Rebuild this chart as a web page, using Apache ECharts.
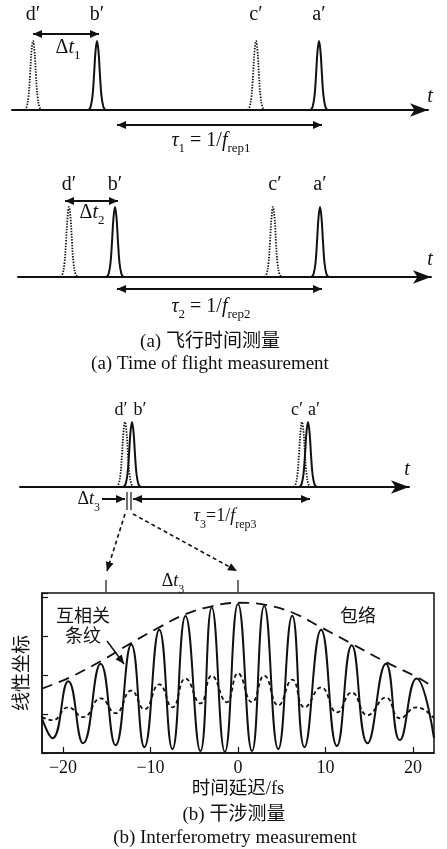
<!DOCTYPE html>
<html>
<head>
<meta charset="utf-8">
<script src="https://cdn.jsdelivr.net/npm/echarts@6/dist/echarts.min.js"></script>
<style>
  html, body { margin: 0; padding: 0; background: #fff; }
  #chart { width: 447px; height: 849px; }
</style>
</head>
<body>
<div id="chart"></div>
<script>
// shape of one pulse: offset along t, relative height
const pulseOffsets = [-8.5, -6.5, -4.5, -3, -1.5, 0, 1.5, 3, 4.5, 6.5, 8.5]
const pulseLevels = [0, 0.04, 0.2, 0.5, 0.85, 1, 0.85, 0.5, 0.2, 0.04, 0]

// pulse centres on each time line, order d', b', c', a'
const pulseNames = ['d′', 'b′', 'c′', 'a′']
const pulseDotted = [true, false, true, false]
const tof1Pulses = [33, 97, 256, 319]
const tof2Pulses = [69, 115, 273, 320]
const interPulses = [125, 132, 302, 308]

// interferogram (delay in fs)
const fringeX = [-22.4, -21.2, -19.4, -17.7, -15.7, -14.0, -12.2, -10.7, -9.0, -7.5, -6.0, -4.3, -3.0, -1.5,
  0, 1.6, 3.0, 4.6, 6.2, 7.6, 9.5, 11.3, 13.0, 14.8, 16.9, 18.5, 20.4, 22.4]
const fringeY = [0.89, 0.38, 1.84, 0.25, 2.29, 0.20, 2.78, 0.15, 3.16, 0.10, 3.51, 0.05, 3.73, 0.03,
  3.82, 0.05, 3.77, 0.10, 3.52, 0.15, 3.16, 0.18, 2.76, 0.25, 2.29, 0.33, 1.91, 0.38]
const xcorrX = [-22.4, -21.2, -19.4, -17.7, -15.7, -14.0, -12.2, -10.7, -9.0, -7.5, -6.0, -4.3, -3.0, -1.3,
  0, 1.6, 3.0, 4.6, 6.2, 7.6, 9.5, 11.3, 13.0, 14.8, 16.9, 18.5, 20.4, 22.4]
const xcorrY = [0.92, 0.84, 1.17, 0.92, 1.40, 1.02, 1.60, 1.12, 1.76, 1.17, 1.91, 1.27, 1.98, 1.30,
  2.04, 1.30, 1.98, 1.22, 1.88, 1.17, 1.68, 1.04, 1.55, 0.97, 1.42, 0.89, 1.17, 0.89]
const envX = [-22.4, -19.4, -15.7, -12.2, -9.0, -6.0, -3.0, 0, 3.0, 6.2, 9.5, 13.0, 16.9, 20.4, 22.4]
const envY = [1.65, 1.92, 2.35, 2.82, 3.22, 3.56, 3.76, 3.85, 3.80, 3.60, 3.22, 2.80, 2.33, 1.95, 1.68]
const delayTicks = [-20, -10, 0, 10, 20]

const ink = '#111'
const serif = "'Liberation Serif', 'Times New Roman', 'Noto Sans CJK SC', serif"

const chart = echarts.init(document.getElementById('chart'))

function pulseData(centres, dotted) {
  const out = []
  centres.forEach((c, i) => {
    if (pulseDotted[i] !== dotted) return
    pulseOffsets.forEach((o, k) => out.push([c + o, pulseLevels[k]]))
    out.push([c + 9, null])
  })
  return out
}

function zip(xs, ys) { return xs.map((x, i) => [x, ys[i]]) }

// three time lines, pixel-like t units
const lines = [
  { left: 12, right: 428, top: 41, height: 69, pulses: tof1Pulses },
  { left: 18, right: 431, top: 207, height: 70, pulses: tof2Pulses },
  { left: 20, right: 409, top: 422, height: 65, pulses: interPulses }
]

const grid = lines.map(l => ({ left: l.left, width: l.right - l.left, top: l.top, height: l.height }))
grid.push({ left: 42, right: 13, top: 593, height: 160, show: true, borderColor: ink, borderWidth: 1.5 })

const xAxis = lines.map((l, i) => ({
  type: 'value', gridIndex: i, min: l.left, max: l.right,
  axisLine: { lineStyle: { color: ink, width: 2 }, symbol: ['none', 'arrow'], symbolSize: [10, 18] },
  axisTick: { show: false }, axisLabel: { show: false }, splitLine: { show: false }
}))
xAxis.push({
  type: 'value', gridIndex: 3, min: -22.4, max: 22.4, splitNumber: 4,
  axisLine: { onZero: false, lineStyle: { color: ink, width: 1.5 } },
  axisTick: { inside: true, length: 6, lineStyle: { color: ink, width: 1.2 } },
  axisLabel: {
    color: ink, fontFamily: serif, fontSize: 18, margin: 6,
    showMinLabel: false, showMaxLabel: false,
    formatter: v => delayTicks.includes(v) ? String(v).replace('-', '−') : ''
  },
  splitLine: { show: false },
  name: '时间延迟/fs', nameLocation: 'middle', nameGap: 27,
  nameTextStyle: { color: ink, fontFamily: serif, fontSize: 18.5 }
})

const yAxis = lines.map((l, i) => ({ type: 'value', gridIndex: i, min: 0, max: 1, show: false }))
yAxis.push({
  type: 'value', gridIndex: 3, min: 0, max: 4.1, interval: 1,
  axisLine: { show: true, onZero: false, lineStyle: { color: ink, width: 1.5 } },
  axisTick: { show: true, inside: true, length: 6, lineStyle: { color: ink, width: 1.2 } },
  axisLabel: { show: false }, splitLine: { show: false },
  name: '线性坐标', nameLocation: 'middle', nameGap: 9,
  nameTextStyle: { color: ink, fontFamily: serif, fontSize: 19 }
})

const series = []
lines.forEach((l, i) => {
  series.push({
    type: 'line', xAxisIndex: i, yAxisIndex: i, smooth: 0.4, symbol: 'none',
    lineStyle: { color: ink, width: 1.8, type: [1.4, 1.4] },
    data: pulseData(l.pulses, true)
  })
  series.push({
    type: 'line', xAxisIndex: i, yAxisIndex: i, smooth: 0.4, symbol: 'none',
    lineStyle: { color: ink, width: 2 },
    data: pulseData(l.pulses, false)
  })
})
series.push({
  type: 'line', xAxisIndex: 3, yAxisIndex: 3, smooth: 0.5, symbol: 'none',
  lineStyle: { color: ink, width: 1.8, type: [4, 3] }, data: zip(xcorrX, xcorrY)
})
series.push({
  type: 'line', xAxisIndex: 3, yAxisIndex: 3, smooth: 0.5, symbol: 'none',
  lineStyle: { color: ink, width: 2 }, data: zip(fringeX, fringeY)
})
series.push({
  type: 'line', xAxisIndex: 3, yAxisIndex: 3, smooth: 0.4, symbol: 'none',
  lineStyle: { color: ink, width: 1.8, type: [11, 7] }, data: zip(envX, envY)
})

// annotations
function richFor(size) {
  const sub = Math.round(size * 0.64)
  const pad = Math.round(size * 0.25)
  const base = { fontFamily: serif, fontSize: size, lineHeight: size + 1, padding: [0, 0, pad, 0], verticalAlign: 'bottom', fill: ink, color: ink }
  return {
    n: base,
    i: Object.assign({}, base, { fontStyle: 'italic' }),
    s: { fontFamily: serif, fontSize: sub, lineHeight: sub, verticalAlign: 'bottom', fill: ink, color: ink }
  }
}

function text(x, y, str, opts = {}) {
  const size = opts.size || 18
  return {
    type: 'text', x, y, z: 10,
    style: {
      text: str, rich: richFor(size), fill: ink,
      font: (opts.italic ? 'italic ' : '') + size + 'px ' + serif,
      align: opts.align || 'center', verticalAlign: 'middle',
      textAlign: opts.align || 'center', textVerticalAlign: 'middle'
    }
  }
}

function head(x1, y1, x2, y2) {
  const a = Math.atan2(y2 - y1, x2 - x1)
  const L = 9, W = 4
  const bx = x2 - L * Math.cos(a), by = y2 - L * Math.sin(a)
  return {
    type: 'polygon', z: 10,
    shape: { points: [[x2, y2], [bx + W * Math.sin(a), by - W * Math.cos(a)], [bx - W * Math.sin(a), by + W * Math.cos(a)]] },
    style: { fill: ink }
  }
}

function arrow(x1, y1, x2, y2, opts = {}) {
  const els = [{
    type: 'line', z: 10, shape: { x1, y1, x2, y2 },
    style: { stroke: ink, lineWidth: opts.width || 2, lineDash: opts.dash || null }
  }]
  els.push(head(x1, y1, x2, y2))
  if (opts.both) els.push(head(x2, y2, x1, y1))
  return els
}

function seg(x1, y1, x2, y2, w) {
  return { type: 'line', z: 10, shape: { x1, y1, x2, y2 }, style: { stroke: ink, lineWidth: w || 1.2 } }
}

const big = { size: 20 }
const graphic = [
  // (a) first line
  text(33, 15, pulseNames[0], big), text(97, 15, pulseNames[1], big), text(256, 15, pulseNames[2], big), text(319, 15, pulseNames[3], big),
  ...arrow(33, 34, 99, 34, { both: true }),
  text(68, 52, '{n|Δ}{i|t}{s|1}', big),
  text(430, 97, 't', { italic: true, size: 20 }),
  ...arrow(117, 125, 322, 125, { both: true }),
  text(211, 145, '{i|τ}{s|1}{n| = 1/}{i|f}{s|rep1}', big),
  // (a) second line
  text(69, 185, pulseNames[0], big), text(115, 185, pulseNames[1], big), text(275, 185, pulseNames[2], big), text(320, 185, pulseNames[3], big),
  ...arrow(65, 201, 118, 201, { both: true }),
  text(92, 217, '{n|Δ}{i|t}{s|2}', big),
  text(430, 260, 't', { italic: true, size: 20 }),
  ...arrow(117, 289, 322, 289, { both: true }),
  text(211, 311, '{i|τ}{s|2}{n| = 1/}{i|f}{s|rep2}', big),
  text(210, 342, '(a) 飞行时间测量', { size: 19 }),
  text(210, 364, '(a) Time of flight measurement', { size: 19 }),
  // (b) time line
  text(121, 410, pulseNames[0]), text(140, 410, pulseNames[1]), text(297, 410, pulseNames[2]), text(314, 410, pulseNames[3]),
  text(407, 470, 't', { italic: true, size: 20 }),
  text(100, 504, '{n|Δ}{i|t}{s|3}', { align: 'right' }),
  ...arrow(102, 499, 125, 499),
  seg(127, 492, 127, 510), seg(131, 492, 131, 510),
  ...arrow(133, 499, 310, 499, { both: true }),
  text(225, 521, '{i|τ}{s|3}{n|=1/}{i|f}{s|rep3}'),
  ...arrow(125, 514, 107, 571, { dash: [4, 3], width: 1.6 }),
  ...arrow(133, 514, 237, 571, { dash: [4, 3], width: 1.6 }),
  seg(106, 580, 106, 592), seg(238, 580, 238, 592),
  text(173, 586, '{n|Δ}{i|t}{s|3}'),
  // (b) interferogram labels
  text(83, 617, '互相关'), text(83, 637, '条纹'),
  ...arrow(107, 641, 124, 664, { width: 1.5 }),
  text(358, 617, '包络'),
  text(234, 815, '(b) 干涉测量', { size: 19 }),
  text(235, 838, '(b) Interferometry measurement', { size: 19 })
]

chart.setOption({
  backgroundColor: '#fff',
  animation: false,
  grid, xAxis, yAxis, series, graphic
})
</script>
</body>
</html>
